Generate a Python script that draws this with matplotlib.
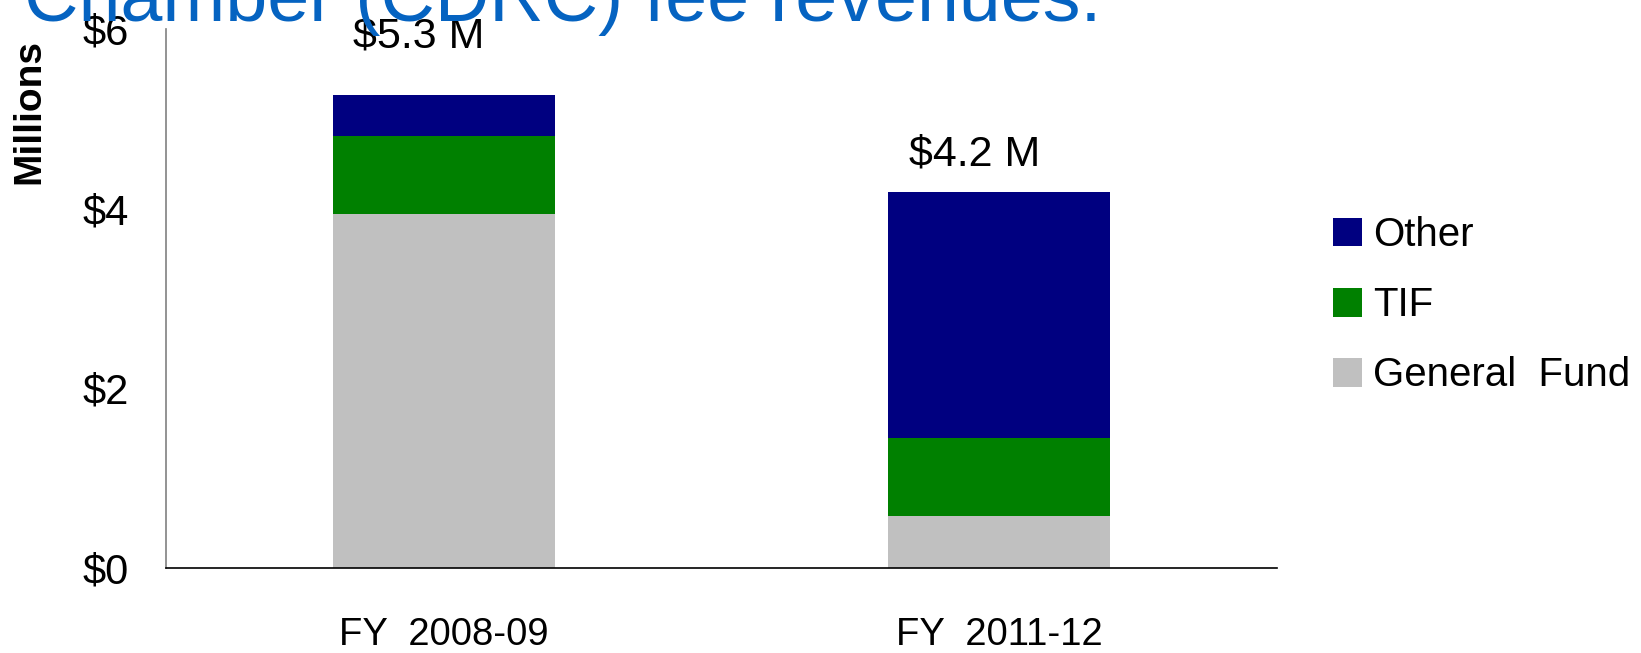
import matplotlib.pyplot as plt
import matplotlib.transforms as mtransforms
import numpy as np

# values (millions of dollars)
years = ['FY  2008-09', 'FY  2011-12']
general_fund = [3.94, 0.58]
tif = [0.87, 0.87]
other = [0.45, 2.73]
total_labels = ['$5.3 M', '$4.2 M']
y_ticks = [0, 2, 4, 6]
tick_labels = ['$0', '$2', '$4', '$6']

plt.rcParams['font.family'] = ['Liberation Sans', 'DejaVu Sans']

fig = plt.figure(figsize=(16.41, 6.53), dpi=100)
ax = fig.add_axes([0.1012, 0.1302, 0.6770, 0.8254])

x = np.arange(len(years))
gf = np.array(general_fund)
tf = np.array(tif)
ot = np.array(other)

b1 = ax.bar(x, gf, width=0.4, color='#C0C0C0', label='General  Fund')
b2 = ax.bar(x, tf, width=0.4, bottom=gf, color='#008000', label='TIF')
b3 = ax.bar(x, ot, width=0.4, bottom=gf + tf, color='#000080', label='Other')

ax.set_xlim(-0.5, 1.5)
ax.set_ylim(0, 6)
ax.set_yticks(y_ticks)
ax.set_yticklabels(tick_labels, fontsize=30)
ax.set_xticks(x)
ax.set_xticklabels(years, fontsize=27.5)
ax.tick_params(axis='y', length=0, pad=27)
ax.tick_params(axis='x', length=0, pad=35)

for s in ['top', 'right']:
    ax.spines[s].set_visible(False)
ax.spines['left'].set_color('#808080')
ax.spines['left'].set_linewidth(1.2)
ax.spines['bottom'].set_color('black')
ax.spines['bottom'].set_linewidth(1.2)

# total labels above the bars, a little left of the bar centres
lab_shift = mtransforms.ScaledTranslation(-25 / 100, 0, fig.dpi_scale_trans)
label_y = [5.92, 4.6]
for xi, ly, txt in zip(x, label_y, total_labels):
    ax.text(xi, ly, txt, fontsize=31, ha='center', va='center',
            transform=ax.transData + lab_shift, clip_on=False)

ax.text(-0.1233, 0.846, 'Millions', fontsize=28, fontweight='bold',
        rotation=90, ha='center', va='center', transform=ax.transAxes)

fig.text(24 / 1641, 1 - 21 / 653, 'Chamber (CDRC) fee revenues.',
         fontsize=54.3, color='#0563C1', ha='left', va='baseline')

leg = ax.legend(handles=[b3, b2, b1], loc='upper left',
                bbox_to_anchor=(1333 / 1641, 1 - 216 / 653),
                bbox_transform=fig.transFigure, frameon=False,
                fontsize=29, handlelength=0.72, handleheight=0.72,
                handletextpad=0.27, labelspacing=0.8, borderpad=0,
                borderaxespad=0)

fig.savefig('out.png', dpi=100)
